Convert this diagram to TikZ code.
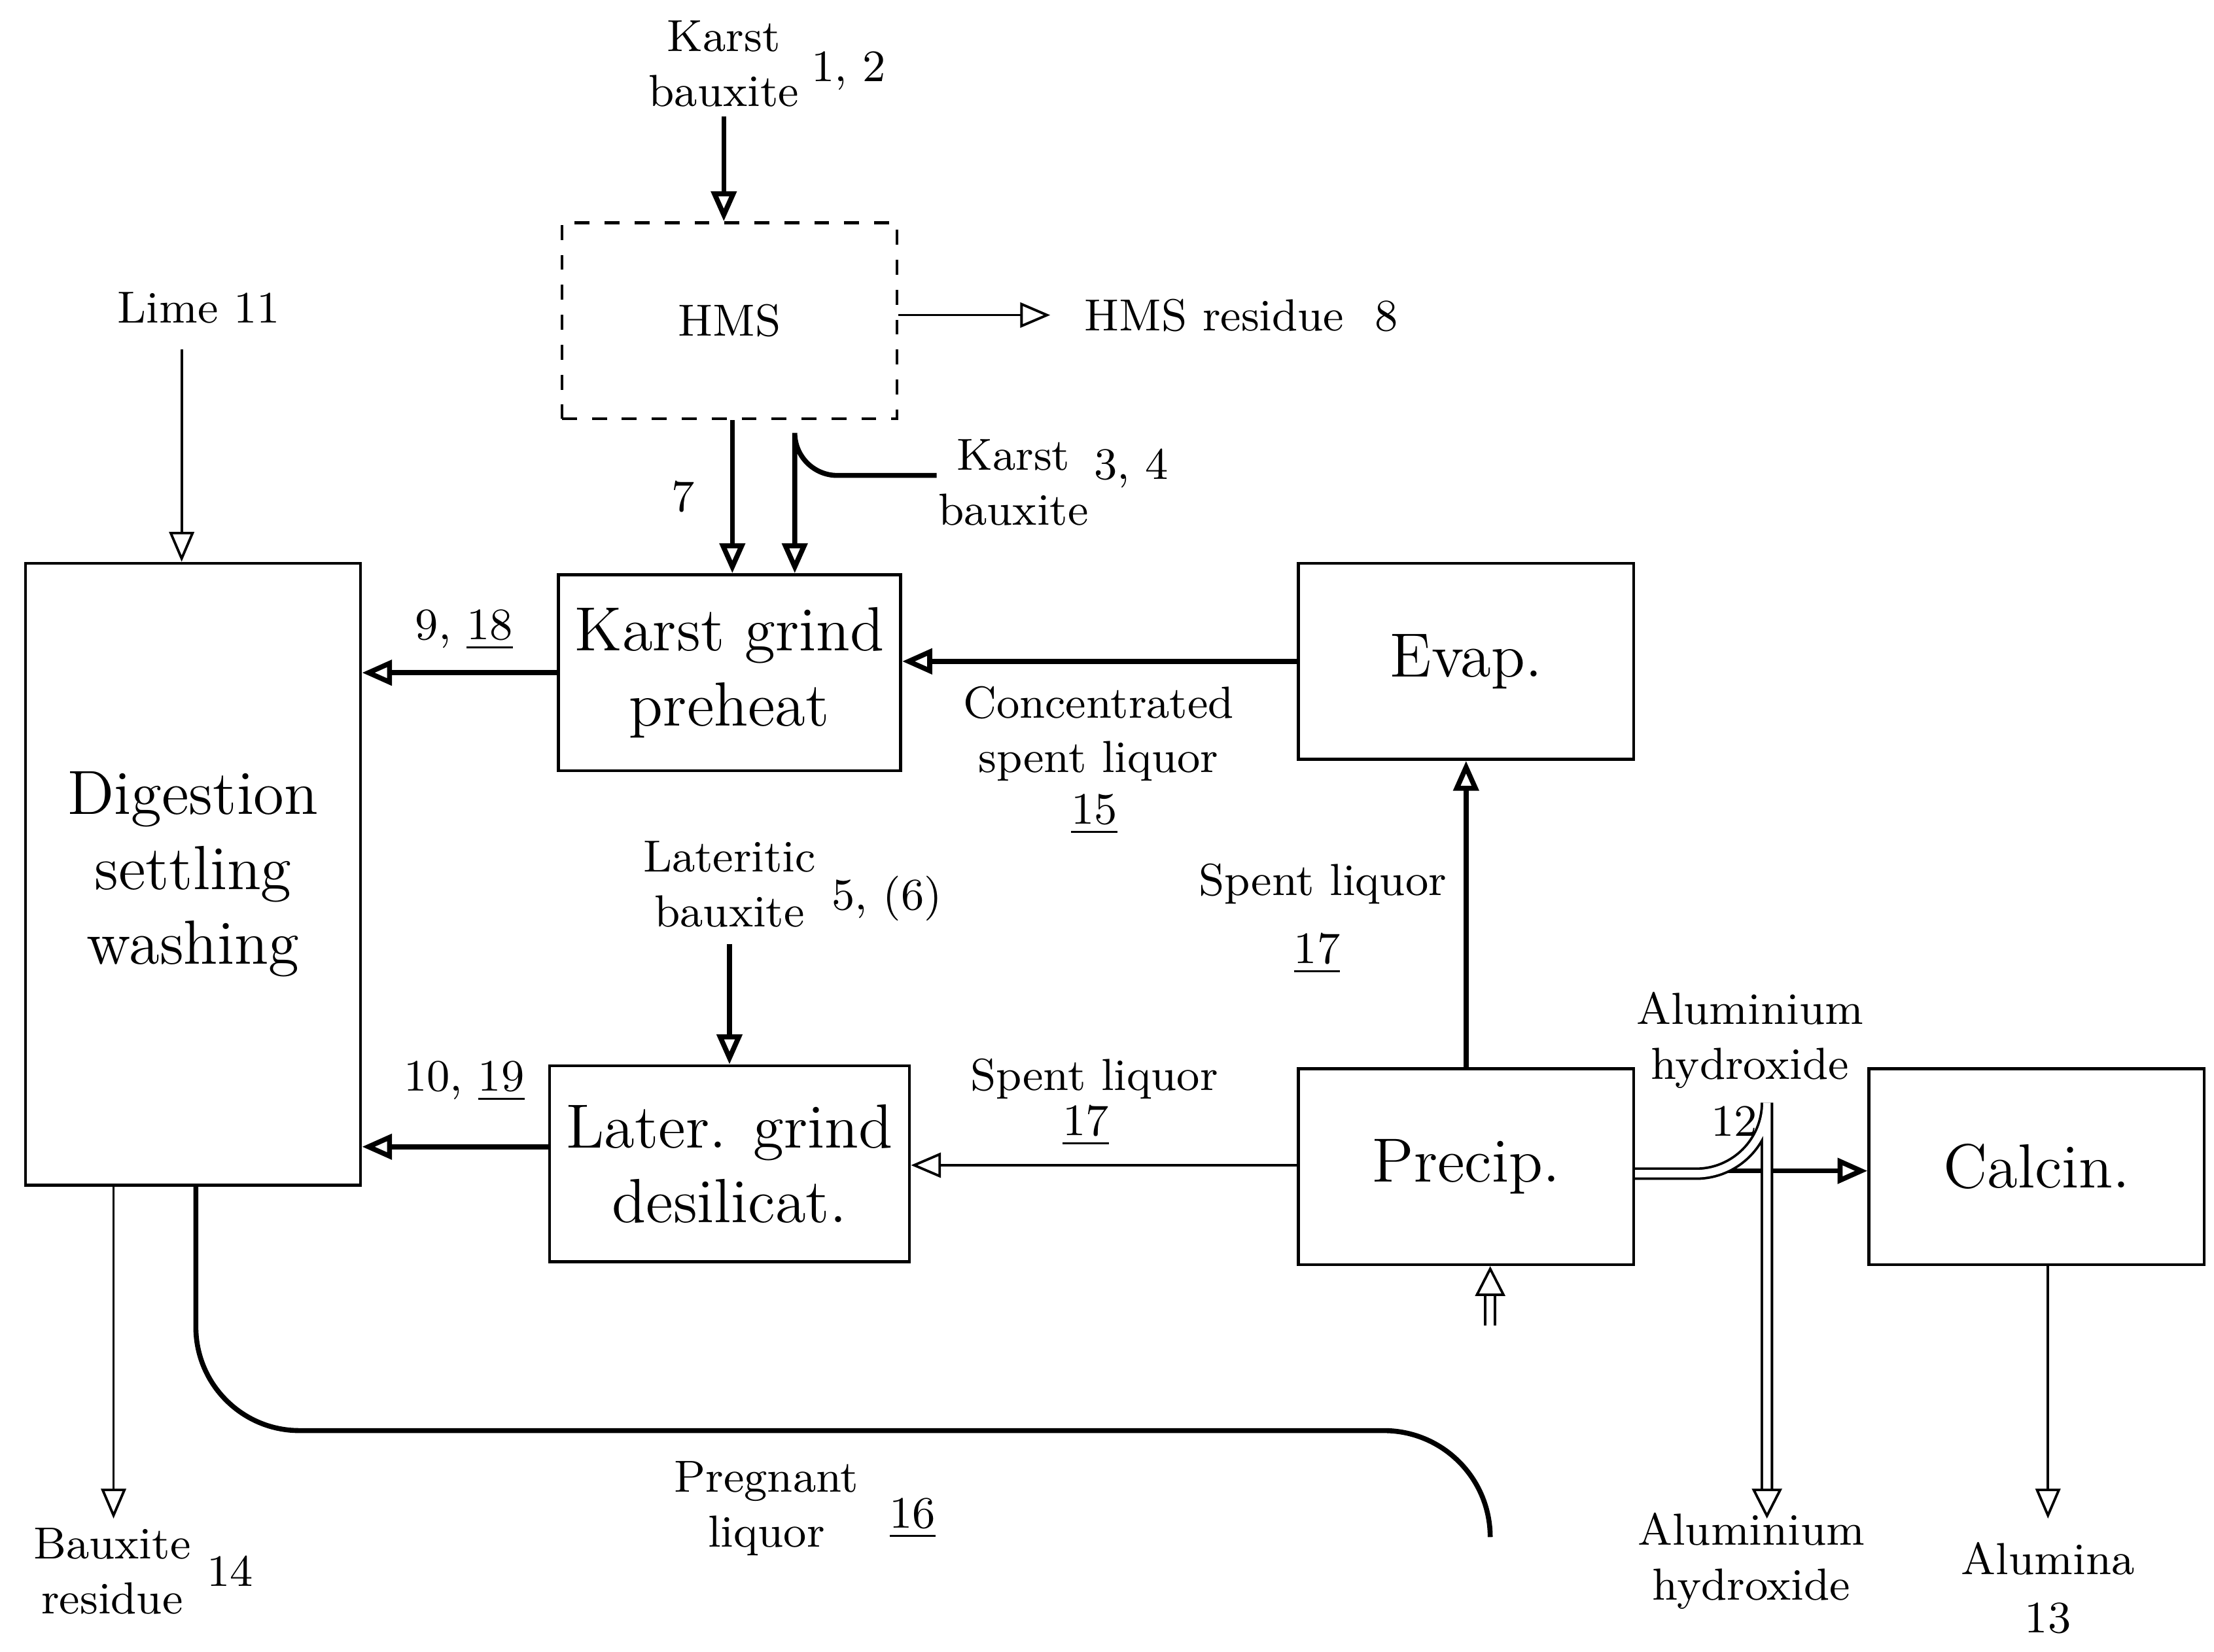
\documentclass[tikz,border=0pt]{standalone}
\usepackage{tikz}
\usetikzlibrary{arrows.meta,positioning}
\tikzset{
  box/.style={draw,line width=0.6pt,minimum width=2.36cm,minimum height=1.38cm,align=center,font=\fontsize{12.5}{15}\selectfont},
  lbl/.style={align=center,font=\fontsize{9}{11}\selectfont,inner sep=1pt},
  flow/.style={line width=1pt,-{Triangle[open,length=6pt,width=5pt]}},
  thinflow/.style={line width=0.5pt,-{Triangle[open,length=6pt,width=5pt]}},
}
\begin{document}
\begin{tikzpicture}[x=0.01cm,y=-0.01cm]
    \useasboundingbox (0,0) rectangle (1560,1164);

    % Process units
    \node[box,dashed,font=\fontsize{9}{11}\selectfont] (hms) at (514,226) {HMS};
    \node[box] (karst) at (514,474) {Karst grind\\preheat};
    \node[box,minimum height=4.38cm] (dig) at (136,616) {Digestion\\settling\\washing};
    \node[box] (later) at (514,820) {Later. grind\\desilicat.};
    \node[box] (evap) at (1033,466) {Evap.};
    \node[box] (precip) at (1033,822) {Precip.};
    \node[box] (calcin) at (1435,822) {Calcin.};

    % Feeds and products
    \node[lbl] (kb1) at (510,45) {Karst\\bauxite};
    \node[lbl] at (598,50) {1, 2};
    \coordinate (kb1e) at (510,82);
    \draw[flow] (kb1e) -- (hms.north -| kb1e);

    \coordinate (hmsr) at (740,222);
    \node[lbl,anchor=west] at (760,222) {HMS residue\ \ 8};
    \draw[thinflow] (hms.east |- hmsr) -- (hmsr);

    \draw[flow] (hms.south -| 516,0) -- (karst.north -| 516,0) node[lbl,pos=0.5,left=6pt] {7};

    \node[lbl] (kb2) at (714,340) {Karst\\bauxite};
    \node[lbl] at (797,330) {3, 4};
    \coordinate (kb2s) at (660,335);
    \draw[flow] (kb2s) -- (590,335) arc[start angle=90,end angle=180,radius=30] -- (karst.north -| 560,0);

    \node[lbl] (lime) at (140,217) {Lime 11};
    \coordinate (limee) at (128,246);
    \draw[thinflow] (limee) -- (dig.north -| limee);

    % Liquor circuit
    \draw[flow] (karst.west |- 0,474) -- (dig.east |- 0,474);
    \node[lbl] at (327,444) {9, \underline{18}};

    \draw[flow] (evap.west |- 0,466) -- (karst.east |- 0,466);
    \node[lbl] at (774,517) {Concentrated\\spent liquor};
    \node[lbl] at (771,574) {\underline{15}};

    \draw[flow] (precip.north) -- (evap.south);
    \node[lbl] at (932,623) {Spent liquor};
    \node[lbl] at (928,672) {\underline{17}};

    \node[lbl] (lat) at (514,623) {Lateritic\\bauxite};
    \node[lbl] at (625,633) {5, (6)};
    \coordinate (late) at (514,665);
    \draw[flow] (late) -- (later.north);

    \draw[flow] (later.west |- 0,808) -- (dig.east |- 0,808);
    \node[lbl] at (327,762) {10, \underline{19}};

    \draw[thinflow] (precip.west |- 0,821) -- (later.east |- 0,821);
    \node[lbl] at (771,760) {Spent liquor};
    \node[lbl] at (765,793) {\underline{17}};

    \draw[flow] (precip.east |- 0,825) -- (calcin.west |- 0,825);
    \node[lbl] at (1233,733) {Aluminium\\hydroxide};
    \node[lbl] at (1222,790) {12};

    \coordinate (ahe) at (1245,1070);
    \draw[line width=0.5pt,double,double distance=1.5pt,-{Triangle[open,length=6pt,width=6pt]}] (precip.east |- 0,827) -- (1195,827) arc[start angle=90,end angle=0,radius=50] -- (ahe);
    \node[lbl] at (1234,1100) {Aluminium\\hydroxide};

    \coordinate (alue) at (1443,1070);
    \draw[thinflow] (calcin.south -| alue) -- (alue);
    \node[lbl] at (1443,1098) {Alumina};
    \node[lbl] at (1443,1140) {13};

    \coordinate (bre) at (80,1070);
    \draw[thinflow] (dig.south -| bre) -- (bre);
    \node[lbl] at (79,1107) {Bauxite\\residue};
    \node[lbl] at (162,1107) {14};

    \draw[line width=1pt] (dig.south -| 138,0) -- (138,935) arc[start angle=180,end angle=90,radius=73] -- (975,1008) arc[start angle=-90,end angle=0,radius=75];
    \draw[line width=0.5pt,double,double distance=1.5pt,-{Triangle[open,length=6pt,width=6pt]}] (1050,934) -- (precip.south -| 1050,0);
    \node[lbl] at (540,1063) {Pregnant\\liquor};
    \node[lbl] at (643,1070) {\underline{16}};
\end{tikzpicture}
\end{document}
